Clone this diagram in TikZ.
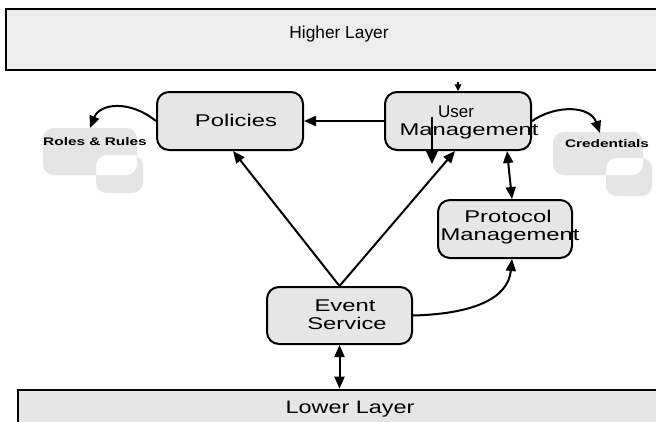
\documentclass[tikz,border=0pt]{standalone}
\usepackage{fontspec}
\setmainfont{Liberation Sans}
\newfontfamily\widefont[FakeStretch=1.4]{Liberation Sans}
\newfontfamily\lowfont[FakeStretch=1.3]{Liberation Sans}
\usetikzlibrary{arrows.meta}
\definecolor{boxgray}{HTML}{E6E6E6}
\definecolor{topgray}{HTML}{EDEDED}
\definecolor{decogray}{HTML}{E5E5E5}
\tikzset{
  box/.style={draw=black, line width=1.5pt, fill=boxgray, rounded corners=9pt, inner sep=0pt},
  layerbox/.style={draw=black, line width=2pt, inner sep=0pt},
  lbl/.style={anchor=base, inner sep=0pt, font=\widefont\fontsize{12.75pt}{14pt}\selectfont},
  deco/.style={anchor=base, inner sep=0pt, font=\widefont\bfseries\fontsize{8.25pt}{9pt}\selectfont},
  conn/.style={line width=1.5pt, -{Triangle[length=9pt,width=7.5pt]}},
  biconn/.style={line width=1.5pt, {Triangle[length=9pt,width=7.5pt]}-{Triangle[length=9pt,width=7.5pt]}}
}
\begin{document}
\begin{tikzpicture}[x=0.75pt,y=-0.75pt]
\useasboundingbox (0,0) rectangle (656,421);
\fill[white] (0,0) rectangle (656,421);

% decorative gray shapes
\fill[decogray, even odd rule]
  [rounded corners=8pt] (43,128) rectangle (137,175)
  [rounded corners=8pt] (96,155) rectangle (143,193);
\fill[decogray, even odd rule]
  [rounded corners=8pt] (553,132) rectangle (643,175)
  [rounded corners=8pt] (606,158) rectangle (652,196);

% layers
\node[layerbox, fill=topgray, minimum width=520.5pt, minimum height=45.75pt] (hl) at (353,39.5) {};
\node[layerbox, fill=boxgray, minimum width=511.5pt, minimum height=45pt] (ll) at (359,420) {};

% boxes
\node[box, minimum width=109.5pt, minimum height=43.5pt] (pol) at (230,121) {};
\node[box, minimum width=109.5pt, minimum height=43.5pt] (um) at (458,121) {};
\node[box, minimum width=100.5pt, minimum height=43.5pt] (pr) at (505,229) {};
\node[box, minimum width=108.75pt, minimum height=42.75pt] (ev) at (339.5,315.5) {};

% coordinates
\coordinate (rtip) at (90,128);
\coordinate (ctip) at (600,133);
\coordinate (umtop) at (458,82);
\coordinate (innA) at (432,117);
\coordinate (innB) at (432,164);

% connectors
\draw[conn] (um.west) -- (pol.east);
\draw[conn] (ev.north) -- ([xshift=2.25pt]pol.south);
\draw[conn] (ev.north) -- ([xshift=-2.25pt]um.south);
\draw[biconn] ([xshift=36.75pt]um.south) -- ([xshift=5.25pt]pr.north);
\draw[conn] (ev.east) .. controls (470,314) and (508,300) .. ([xshift=5.25pt]pr.south);
\draw[biconn] (ev.south) -- (ev.south |- ll.north);
\draw[conn] (pol.west) .. controls (130,100) and (100,103) .. (rtip);
\draw[conn] (um.east) .. controls (555,105) and (590,105) .. (ctip);
\draw[line width=1pt, -{Triangle[length=5pt,width=5pt]}] (umtop) -- (um.north);

% texts
\node[anchor=base, inner sep=0pt, font=\fontsize{13pt}{15pt}\selectfont] (hlt) at (339,38) {Higher Layer};
\node[anchor=base, inner sep=0pt, font=\lowfont\fontsize{13.5pt}{15pt}\selectfont] (llt) at (350,413) {Lower Layer};
\node[lbl] (polt) at (236,126) {Policies};
\node[anchor=base, inner sep=0pt, font=\fontsize{12.75pt}{14pt}\selectfont] (umt1) at (456,117) {User};
\node[lbl] (umt2) at (469,135) {Management};
\node[lbl] (prt1) at (508,222) {Protocol};
\node[lbl] (prt2) at (510,240) {Management};
\node[lbl] (evt1) at (345,311) {Event};
\node[lbl] (evt2) at (347,329) {Service};
\node[deco] (rr) at (95,145) {Roles \& Rules};
\node[deco] (cr) at (607,147) {Credentials};

% inner arrow in User Management
\draw[line width=1pt, -{Triangle[length=10pt,width=9pt]}] (innA) -- (innB);
\end{tikzpicture}
\end{document}
